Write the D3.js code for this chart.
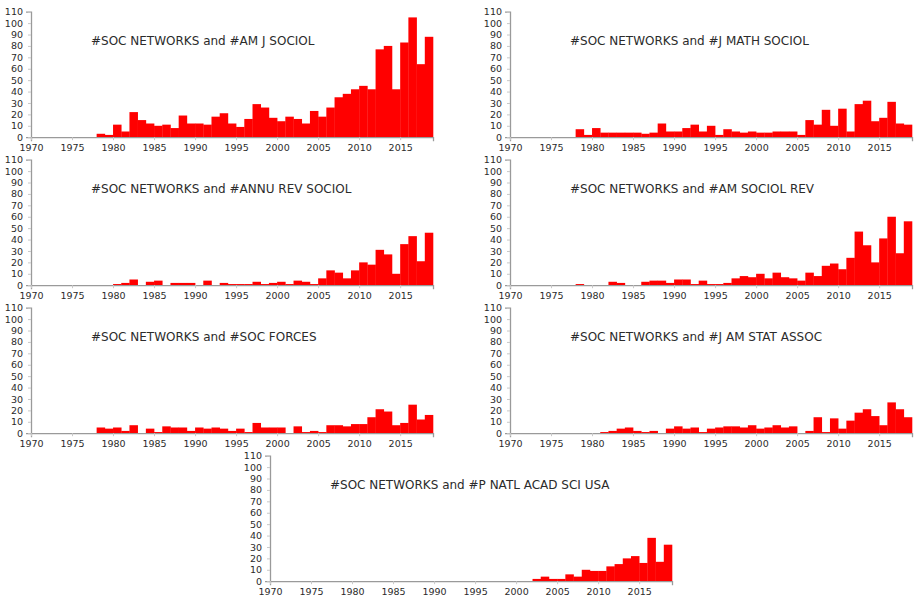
<!DOCTYPE html>
<html>
<head>
<meta charset="utf-8">
<script src="https://cdn.jsdelivr.net/npm/d3@7"></script>
<style>
  html, body { margin: 0; padding: 0; background: #fff; }
  svg { display: block; }
  .axis .domain { stroke: #9a9a9a; stroke-width: 1.3; }
  .axis .tick line { stroke: #c8c8c8; }
  .axis .tick text { fill: #2b2b2b; font-family: "DejaVu Sans", Verdana, sans-serif; font-size: 9.5px; }
  .title { fill: #2b2b2b; font-family: "DejaVu Sans", Verdana, sans-serif; font-size: 12px; }
</style>
</head>
<body>
<script>
// Publication counts per year, 1970–2018
const years = d3.range(1970, 2019);

const amJSociol = [0,0,0,0,0,0,0,0,
  3,2,11,5,22,15,12,10,11,8,19,12,12,11,18,21,12,9,16,29,26,17,14,18,16,12,23,18,26,35,38,42,45,42,77,80,42,83,105,64,88];
const jMathSociol = [0,0,0,0,0,0,0,0,
  7,2,8,4,4,4,4,4,3,4,12,5,5,8,11,5,10,2,7,5,4,5,4,4,5,5,5,2,15,11,24,10,25,5,29,32,14,17,31,12,11];
const annuRevSociol = [0,0,0,0,0,0,0,0,
  0,0,1,2,5,0,3,4,0,2,2,2,0,4,0,2,1,1,1,3,1,2,3,1,4,3,1,6,13,11,6,13,20,18,31,27,10,36,43,21,46];
const amSociolRev = [0,0,0,0,0,0,0,0,
  1,0,0,0,3,2,0,0,3,4,4,2,5,5,1,4,1,1,2,6,8,7,10,6,11,7,6,4,11,8,17,19,14,24,47,35,20,41,60,28,56];
const socForces = [0,0,0,0,0,0,0,0,
  5,4,5,2,7,0,4,1,6,5,5,2,5,4,5,4,2,4,1,9,5,5,5,0,6,1,2,1,7,7,6,8,8,14,21,19,7,9,25,12,16];
const jAmStatAssoc = [0,0,0,0,0,0,0,0,
  0,0,0,1,2,4,5,2,1,2,0,4,6,4,5,1,4,5,6,6,5,7,4,5,7,5,6,0,2,14,1,13,4,11,18,21,15,7,27,21,14];
const pNatlAcadSciUsa = [0,0,0,0,0,0,0,0,
  0,0,0,0,0,0,0,0,0,0,0,0,0,0,0,0,0,0,0,0,0,0,0,0,2,4,2,2,6,4,10,9,9,13,15,20,22,16,38,17,32];

const titles = [
  "#SOC NETWORKS and #AM J SOCIOL",
  "#SOC NETWORKS and #J MATH SOCIOL",
  "#SOC NETWORKS and #ANNU REV SOCIOL",
  "#SOC NETWORKS and #AM SOCIOL REV",
  "#SOC NETWORKS and #SOC FORCES",
  "#SOC NETWORKS and #J AM STAT ASSOC",
  "#SOC NETWORKS and #P NATL ACAD SCI USA"
];
const seriesList = [amJSociol, jMathSociol, annuRevSociol, amSociolRev, socForces, jAmStatAssoc, pNatlAcadSciUsa];

const yTicks = d3.range(0, 111, 10);
const xTicks = d3.range(1970, 2016, 5);

// panel grid: origin of each plot area (left axis x, top of scale)
const origins = [
  [31, 11.7], [510, 11.7],
  [31, 159.7], [510, 159.7],
  [31, 307.7], [510, 307.7],
  [270, 455.7]
];
const plotW = 402, plotH = 125.5;

const svg = d3.select("body").append("svg")
  .attr("width", 916).attr("height", 599);

const x = d3.scaleLinear().domain([1970, 2019]).range([0, plotW]);
const y = d3.scaleLinear().domain([0, 110]).range([plotH, 0]);

seriesList.forEach((vals, i) => {
  const g = svg.append("g").attr("transform", `translate(${origins[i][0]},${origins[i][1]})`);

  const rows = years.map((yr, k) => ({ year: yr, value: vals[k] })).filter(d => d.value > 0);

  g.append("g").selectAll("rect").data(rows).join("rect")
    .attr("x", d => x(d.year))
    .attr("width", d => x(d.year + 1) - x(d.year) + 0.3)
    .attr("y", d => y(d.value))
    .attr("height", d => y(0) - y(d.value))
    .attr("fill", "#ff0000");

  g.append("text").attr("class", "title")
    .attr("x", 60).attr("y", 33.3)
    .text(titles[i]);

  g.append("g").attr("class", "axis")
    .call(d3.axisLeft(y).tickValues(yTicks).tickSizeInner(3).tickSizeOuter(5).tickPadding(5));

  g.append("g").attr("class", "axis")
    .attr("transform", `translate(0,${plotH})`)
    .call(d3.axisBottom(x).tickValues(xTicks).tickFormat(d3.format("d"))
      .tickSizeInner(3).tickSizeOuter(4).tickPadding(4));
});
</script>
</body>
</html>
